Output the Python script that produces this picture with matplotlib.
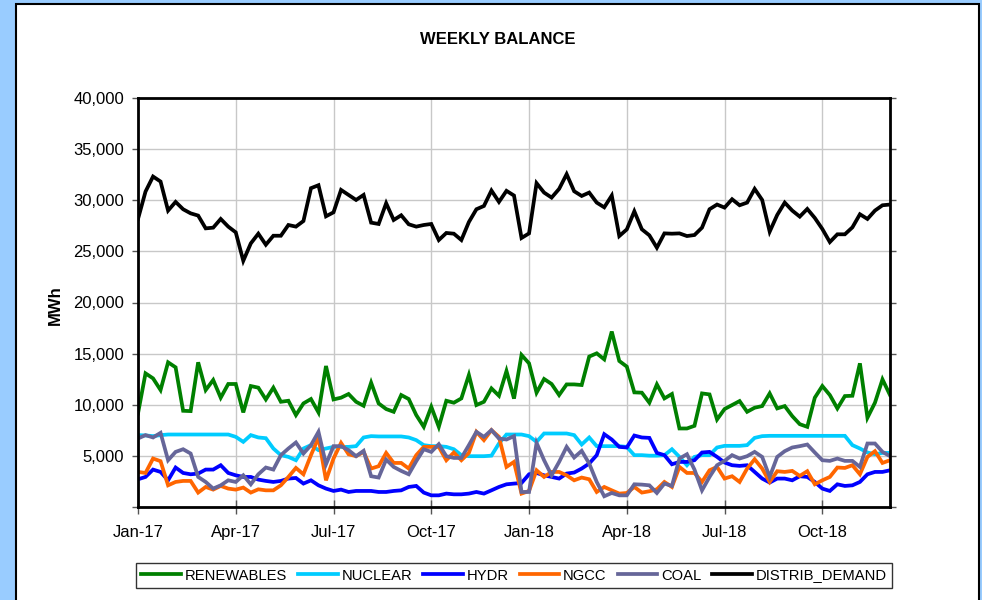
import matplotlib
matplotlib.use("Agg")
import matplotlib.pyplot as plt
from matplotlib.patches import Rectangle
from matplotlib.ticker import FuncFormatter, MultipleLocator

plt.rcParams['font.family'] = ['Liberation Sans', 'DejaVu Sans']

# weekly values, MWh (week 0 = first week of Jan-17)
renewables = [9150, 13070, 12580, 11440, 14150, 13660, 9410, 9380, 14150, 11440,
              12420, 10690, 12030, 12030, 9250, 11830, 11670, 10520, 11670, 10290,
              10390, 8990, 10130, 10560, 9250, 13790, 10520, 10690, 11050, 10290,
              9900, 12160, 10130, 9580, 9310, 10950, 10560, 8990, 7840, 9800,
              7840, 10390, 10200, 10620, 12910, 9970, 10290, 11600, 10880, 13300,
              10600, 14870, 14050, 11180, 12520, 12030, 10950, 11990, 11990, 11930,
              14710, 15030, 14440, 17160, 14280, 13730, 11210, 11180, 10200, 11990,
              10620, 11050, 7680, 7680, 7940, 11110, 11010, 8560, 9580, 9970,
              10360, 9310, 9710, 9870, 11110, 9640, 9870, 8890, 8100, 7840,
              10690, 11830, 10950, 9640, 10850, 10880, 14050, 8730, 10200, 12480,
              10950]
nuclear = [7030, 7000, 6930, 7030, 7090, 7090, 7090, 7090, 7090, 7090,
           7090, 7090, 7090, 6860, 6370, 7030, 6800, 6730, 5720, 5070,
           4900, 4575, 5720, 6050, 5560, 5720, 5880, 5880, 5880, 5950,
           6800, 6930, 6900, 6900, 6900, 6900, 6800, 6540, 6050, 5950,
           5950, 5880, 5650, 5070, 4970, 4970, 4970, 5020, 6210, 7090,
           7090, 7090, 6930, 6370, 7190, 7190, 7190, 7190, 7030, 6110,
           6800, 5950, 5950, 5950, 5950, 5880, 5070, 5070, 5020, 5020,
           5070, 5650, 4900, 4085, 4900, 5070, 5070, 5820, 5980, 5980,
           5980, 6050, 6760, 6930, 6960, 6960, 6960, 6960, 6960, 6960,
           6960, 6960, 6960, 6960, 6960, 6050, 5720, 5330, 5160, 5290,
           5290]
hydr = [2710, 2940, 3660, 3430, 2610, 3860, 3330, 3200, 3270, 3660,
        3660, 4085, 3330, 3100, 2940, 2940, 2680, 2550, 2450, 2550,
        2780, 2840, 2290, 2610, 2120, 1800, 1570, 1700, 1470, 1570,
        1570, 1570, 1470, 1470, 1570, 1630, 1960, 2060, 1410, 1140,
        1140, 1310, 1240, 1240, 1310, 1470, 1310, 1630, 1960, 2220,
        2290, 2350, 3200, 3330, 3100, 2940, 2780, 3270, 3370, 3760,
        4250, 5070, 7120, 6600, 5880, 5820, 6990, 6800, 6760, 5290,
        5070, 4180, 4410, 4410, 4575, 5330, 5390, 4900, 4350, 4085,
        4020, 4085, 3430, 2780, 2390, 2780, 2780, 2610, 3010, 2940,
        2450, 1800, 1570, 2220, 2060, 2120, 2450, 3200, 3430, 3430,
        3590]
ngcc = [3430, 3330, 4740, 4480, 2120, 2450, 2550, 2550, 1410, 1960,
        1700, 2060, 1800, 1700, 1900, 1410, 1730, 1630, 1630, 2120,
        2940, 3820, 3200, 5070, 6800, 2610, 4740, 6270, 5160, 4970,
        5390, 3760, 3990, 5290, 4310, 4310, 3760, 5070, 5880, 5880,
        5880, 4575, 5330, 4575, 5290, 7350, 6540, 7520, 6860, 3920,
        4410, 1310, 1570, 3590, 2940, 3430, 3430, 3100, 2610, 2880,
        2710, 1470, 1960, 1630, 1310, 1370, 1960, 1410, 1540, 1730,
        2450, 1960, 3920, 3330, 3330, 2450, 3590, 3920, 2780, 3010,
        2450, 3760, 4670, 3760, 2450, 3500, 3430, 3530, 3040, 3500,
        2220, 2610, 2940, 3860, 3820, 4085, 3200, 4900, 5460, 4310,
        4575]
coal = [6700, 7030, 6800, 7250, 4575, 5390, 5650, 5230, 2940, 2450,
        1800, 2120, 2610, 2450, 3100, 2220, 3200, 3860, 3660, 5070,
        5720, 6310, 5230, 6050, 7350, 4180, 5950, 5950, 5560, 4970,
        5490, 3010, 2880, 4640, 3920, 3530, 3200, 4480, 5650, 5390,
        6140, 4970, 4800, 4800, 6050, 7350, 6860, 7520, 6700, 6600,
        6930, 1470, 1470, 6270, 4575, 3100, 4410, 5880, 4840, 5490,
        4250, 2450, 1050, 1370, 1140, 1140, 2220, 2190, 2120, 1370,
        2290, 2060, 4740, 5160, 3660, 1630, 2940, 4085, 4510, 5070,
        4740, 4970, 5390, 4900, 2940, 4900, 5460, 5820, 5950, 6110,
        5330, 4575, 4510, 4740, 4510, 4510, 3920, 6210, 6210, 5390,
        4970]
distrib_demand = [28170, 30850, 32320, 31830, 28990, 29840, 29120, 28720, 28500, 27250,
                  27320, 28170, 27420, 26860, 24080, 25780, 26730, 25650, 26530, 26530,
                  27580, 27420, 27970, 31180, 31470, 28430, 28820, 31010, 30520, 30030,
                  30520, 27810, 27680, 29710, 28070, 28530, 27650, 27420, 27580, 27680,
                  26110, 26800, 26730, 26110, 27870, 29120, 29440, 30950, 29840, 30920,
                  30460, 26310, 26760, 31670, 30750, 30260, 31110, 32550, 30880, 30420,
                  30750, 29770, 29310, 30460, 26500, 27150, 28920, 27160, 26570, 25360,
                  26760, 26730, 26760, 26500, 26600, 27320, 29120, 29580, 29280, 30100,
                  29510, 29770, 31110, 30030, 26930, 28560, 29770, 28990, 28400, 29150,
                  28270, 27190, 25910, 26670, 26670, 27350, 28630, 28170, 28990, 29510,
                  29580]

tick_labels = ['Jan-17', 'Apr-17', 'Jul-17', 'Oct-17', 'Jan-18', 'Apr-18', 'Jul-18', 'Oct-18']
tick_weeks = [0, 13, 26, 39, 52, 65, 78, 91]

series = [
    ('RENEWABLES', renewables, '#008000'),
    ('NUCLEAR', nuclear, '#00CCFF'),
    ('HYDR', hydr, '#0000FF'),
    ('NGCC', ngcc, '#FF6600'),
    ('COAL', coal, '#666699'),
    ('DISTRIB_DEMAND', distrib_demand, '#000000'),
]

W, H = 982, 600
fig = plt.figure(figsize=(W / 100, H / 100), dpi=100, facecolor='#99CCFF')

# white chart panel with black border, behind everything
panel = Rectangle((16 / W, -0.05), (979 - 16) / W, 1.05 - 4 / H,
                  transform=fig.transFigure, facecolor='white',
                  edgecolor='black', linewidth=1.5, zorder=-10)
fig.patches.append(panel)

ax = fig.add_axes([138 / W, 1 - 507 / H, (890 - 138) / W, (507 - 98) / H])
ax.set_zorder(1)
ax.set_facecolor('white')

weeks = list(range(len(distrib_demand)))
for name, vals, col in series:
    ax.plot(weeks, vals, color=col, linewidth=2.7, label=name, solid_joinstyle='miter')

ax.set_xlim(0, len(weeks) - 1)
ax.set_ylim(0, 40000)
ax.set_xticks(tick_weeks)
ax.set_xticklabels(tick_labels)
ax.yaxis.set_major_locator(MultipleLocator(5000))
ax.yaxis.set_major_formatter(FuncFormatter(lambda v, p: '' if v == 0 else f'{int(v):,}'))
ax.grid(True, color='#C8C8C8', linewidth=1.0)
ax.set_axisbelow(True)
ax.tick_params(axis='y', direction='out', length=4, width=1, pad=6, labelsize=12,
               right=True, color='#555555')
ax.tick_params(axis='x', direction='inout', length=10, width=1, pad=8, labelsize=12,
               color='#555555')
for s in ax.spines.values():
    s.set_linewidth(2)
    s.set_color('black')

fig.text(498 / W, 1 - 40 / H, 'WEEKLY BALANCE', ha='center', va='center',
         fontsize=12, fontweight='bold')
fig.text(55 / W, 1 - 305 / H, 'MWh', ha='center', va='center', rotation=90,
         fontsize=12, fontweight='bold')

leg = fig.legend(loc='center', bbox_to_anchor=(514 / W, 1 - 575.5 / H), ncol=6,
                 fontsize=10.6, frameon=True, fancybox=False, edgecolor='black',
                 handlelength=2.7, handletextpad=0.25, columnspacing=0.75,
                 borderpad=0.35, borderaxespad=0)
leg.get_frame().set_linewidth(1)
leg.set_zorder(2)

fig.savefig('out.png', dpi=100, facecolor=fig.get_facecolor())
